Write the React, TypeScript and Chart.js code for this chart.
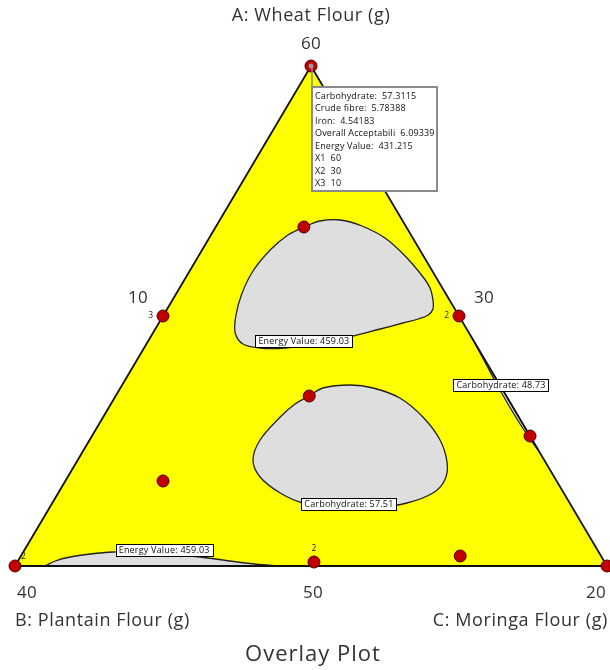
import React, { useEffect, useRef } from "react";
import { Chart, registerables } from "chart.js";

Chart.register(...registerables);

// Component ranges (g): A = Wheat, B = Plantain, C = Moringa (A + B + C = 100)
const wheatRange = [50, 60];
const plantainRange = [30, 40];
const moringaRange = [10, 20];

// Design points
const designWheat = [60, 56.78, 55, 55, 53.4, 52.6, 51.7, 50, 50.08, 50.2, 50];
const designPlantain = [30, 31.73, 35, 30, 33.33, 30, 36.65, 40, 34.91, 32.38, 30];
const designMoringa = [10, 11.49, 10, 15, 13.27, 17.4, 11.65, 10, 15.01, 17.42, 20];
const replicateCounts = ["", "", "3", "2", "", "", "", "2", "2", "", ""];

// Contours as [wheat, moringa] (plantain = 100 - wheat - moringa)
const energyUpperWheat = [56.78, 56.9, 56.92, 56.8, 56.56, 56.2, 55.8, 55.56, 55.32, 55.14, 55.02, 54.94, 54.86, 54.74, 54.56, 54.44, 54.36, 54.36, 54.44, 54.66, 55.0, 55.44, 55.9, 56.32, 56.62, 56.78];
const energyUpperMoringa = [11.49, 11.7, 12.03, 12.46, 12.97, 13.49, 13.98, 14.23, 14.4, 14.49, 14.47, 14.34, 14.12, 13.8, 13.29, 12.81, 12.38, 11.96, 11.63, 11.39, 11.23, 11.11, 11.07, 11.15, 11.3, 11.49];

const carbMiddleWheat = [53.4, 53.56, 53.62, 53.56, 53.36, 52.98, 52.52, 52.06, 51.72, 51.46, 51.26, 51.16, 51.16, 51.26, 51.46, 51.78, 52.12, 52.52, 52.98, 53.24, 53.4];
const carbMiddleMoringa = [13.27, 13.42, 13.85, 14.27, 14.82, 15.4, 15.92, 16.27, 16.4, 16.33, 15.99, 15.47, 14.91, 14.24, 13.75, 13.25, 12.96, 12.88, 12.99, 13.11, 13.27];

const energyBottomWheat = [50, 50.1, 50.18, 50.24, 50.28, 50.28, 50.24, 50.18, 50.1, 50.04, 50, 50];
const energyBottomMoringa = [10.51, 10.63, 10.84, 11.15, 11.52, 11.97, 12.5, 13.04, 13.58, 14.03, 14.39, 10.51];

const carbEdgeWheat = [54.62, 54.12, 53.52, 52.92, 52.42, 52.32, 54.62];
const carbEdgeMoringa = [15.38, 15.86, 16.43, 17.03, 17.56, 17.68, 15.38];

// Contour labels
const contourLabels = ["Energy Value: 459.03", "Carbohydrate: 57.51", "Carbohydrate: 48.73", "Energy Value: 459.03"];
const contourLabelWheat = [54.5, 51.24, 53.62, 50.32];
const contourLabelMoringa = [12.63, 15.02, 16.4, 12.36];

// Tick labels
const vertexTicks = ["60", "40", "20"]; // top (A), bottom-left (B), bottom-right (C)
const edgeTicks = ["10", "30", "50"]; // left edge (C low), right edge (B low), bottom edge (A low)
const axisTitles = ["A: Wheat Flour (g)", "B: Plantain Flour (g)", "C: Moringa Flour (g)"];
const plotTitle = "Overlay Plot";

// Selected point info
const infoNames = ["Carbohydrate:", "Crude fibre:", "Iron:", "Overall Acceptabili", "Energy Value:", "X1", "X2", "X3"];
const infoValues = ["57.3115", "5.78388", "4.54183", "6.09339", "431.215", "60", "30", "10"];

function toXY(wheat: number, moringa: number) {
  const a = (wheat - wheatRange[0]) / (wheatRange[1] - wheatRange[0]);
  const c = (moringa - moringaRange[0]) / (moringaRange[1] - moringaRange[0]);
  return { x: c + a / 2, y: a };
}

function shape(ws: number[], ms: number[]) {
  return ws.map((w, i) => toXY(w, ms[i]));
}

const FONT = "'Open Sans', 'Noto Sans', sans-serif";

const textPlugin = {
  id: "ternaryText",
  afterDraw(chart: any) {
    const ctx = chart.ctx as any;
    const sx = chart.scales.x;
    const sy = chart.scales.y;
    const P = (w: number, m: number) => {
      const p = toXY(w, m);
      return { x: sx.getPixelForValue(p.x), y: sy.getPixelForValue(p.y) };
    };
    const top = P(wheatRange[1], moringaRange[0]);
    const bl = P(wheatRange[0], moringaRange[0]);
    const br = P(wheatRange[0], moringaRange[1]);
    const leftMid = { x: (top.x + bl.x) / 2, y: (top.y + bl.y) / 2 };
    const rightMid = { x: (top.x + br.x) / 2, y: (top.y + br.y) / 2 };
    const botMid = { x: (bl.x + br.x) / 2, y: bl.y };

    ctx.save();
    ctx.fillStyle = "#333";
    ctx.textBaseline = "middle";

    // axis titles
    ctx.font = `18px ${FONT}`;
    ctx.letterSpacing = "0.6px";
    ctx.textAlign = "center";
    ctx.fillText(axisTitles[0], top.x, top.y - 50);
    ctx.textAlign = "left";
    ctx.fillText(axisTitles[1], bl.x, bl.y + 55);
    ctx.textAlign = "right";
    ctx.fillText(axisTitles[2], br.x + 1, br.y + 55);

    // ticks
    ctx.font = `17px ${FONT}`;
    ctx.letterSpacing = "0.3px";
    ctx.textAlign = "center";
    ctx.fillText(vertexTicks[0], top.x, top.y - 22);
    ctx.fillText(vertexTicks[1], bl.x + 12, bl.y + 27);
    ctx.fillText(vertexTicks[2], br.x - 11, br.y + 27);
    ctx.fillText(edgeTicks[0], leftMid.x - 25, leftMid.y - 18);
    ctx.fillText(edgeTicks[1], rightMid.x + 25, rightMid.y - 18);
    ctx.fillText(edgeTicks[2], botMid.x + 2, botMid.y + 27);

    // title
    ctx.font = `22px ${FONT}`;
    ctx.letterSpacing = "1px";
    ctx.fillText(plotTitle, botMid.x + 2, bl.y + 89);
    ctx.letterSpacing = "0px";

    // replicate counts
    ctx.font = `8.5px ${FONT}`;
    ctx.fillStyle = "#222";
    designWheat.forEach((w, i) => {
      const lab = replicateCounts[i];
      if (!lab) return;
      const p = P(w, designMoringa[i]);
      if (Math.abs(p.y - bl.y) < 6 && Math.abs(p.x - bl.x) < 6) {
        ctx.textAlign = "left";
        ctx.fillText(lab, p.x + 6, p.y - 9);
      } else if (Math.abs(p.y - bl.y) < 8) {
        ctx.textAlign = "center";
        ctx.fillText(lab, p.x, p.y - 13);
      } else {
        ctx.textAlign = "right";
        ctx.fillText(lab, p.x - 10, p.y);
      }
    });

    // contour labels
    ctx.font = `9px ${FONT}`;
    ctx.letterSpacing = "0.2px";
    ctx.textAlign = "center";
    contourLabels.forEach((lab, i) => {
      const p = P(contourLabelWheat[i], contourLabelMoringa[i]);
      const w = ctx.measureText(lab).width + 6;
      const h = 12;
      ctx.fillStyle = "#fff";
      ctx.fillRect(p.x - w / 2, p.y - h / 2, w, h);
      ctx.strokeStyle = "#000";
      ctx.lineWidth = 1;
      ctx.strokeRect(Math.round(p.x - w / 2) + 0.5, Math.round(p.y - h / 2) + 0.5, Math.round(w), h);
      ctx.fillStyle = "#111";
      ctx.fillText(lab, p.x, p.y + 0.5);
    });

    // info box for selected point (top vertex)
    const bx = top.x + 1;
    const by = top.y + 21;
    const bw = 125;
    const bh = 104;
    ctx.strokeStyle = "#8a8a8a";
    ctx.lineWidth = 1.5;
    ctx.beginPath();
    ctx.moveTo(top.x + 1, top.y);
    ctx.lineTo(top.x + 1, by);
    ctx.stroke();
    ctx.fillStyle = "#fff";
    ctx.fillRect(bx, by, bw, bh);
    ctx.lineWidth = 2;
    ctx.strokeRect(bx, by, bw, bh);
    ctx.font = `9px ${FONT}`;
    ctx.letterSpacing = "0.15px";
    ctx.textAlign = "left";
    ctx.fillStyle = "#111";
    infoNames.forEach((n, i) => {
      ctx.fillText(n + "  " + infoValues[i], bx + 3, by + 9 + i * 12.5);
    });
    ctx.letterSpacing = "0px";
    // selected marker center
    ctx.fillStyle = "#9a9a9a";
    ctx.beginPath();
    ctx.arc(top.x, top.y, 2.5, 0, Math.PI * 2);
    ctx.fill();
    ctx.restore();
  },
};

export default function App() {
  const ref = useRef<HTMLCanvasElement | null>(null);

  useEffect(() => {
    if (!ref.current) return;
    const triangle = [
      toXY(wheatRange[0], moringaRange[0]),
      toXY(wheatRange[1], moringaRange[0]),
      toXY(wheatRange[0], moringaRange[1]),
      toXY(wheatRange[0], moringaRange[0]),
    ];
    const points = designWheat.map((w, i) => toXY(w, designMoringa[i]));
    const region = (data: any[], order: number) => ({
      data,
      showLine: true,
      fill: "shape",
      backgroundColor: "#dedede",
      borderColor: "#222",
      borderWidth: 1.3,
      pointRadius: 0,
      tension: 0.35,
      clip: false,
      order,
    });
    const chart = new Chart(ref.current, {
      type: "scatter",
      data: {
        datasets: [
          {
            data: points,
            backgroundColor: "#c00000",
            borderColor: "#4a0000",
            borderWidth: 1,
            pointRadius: 6,
            pointHoverRadius: 6,
            clip: false,
            order: 1,
          } as any,
          region(shape(energyUpperWheat, energyUpperMoringa), 3),
          region(shape(carbMiddleWheat, carbMiddleMoringa), 3),
          region(shape(energyBottomWheat, energyBottomMoringa), 3),
          { ...region(shape(carbEdgeWheat, carbEdgeMoringa), 3), tension: 0.2 },
          {
            data: triangle,
            showLine: true,
            fill: "shape",
            backgroundColor: "#ffff00",
            borderColor: "transparent",
            borderWidth: 0,
            pointRadius: 0,
            tension: 0,
            clip: false,
            order: 5,
          } as any,
          {
            data: triangle,
            showLine: true,
            fill: false,
            borderColor: "#111",
            borderWidth: 1.8,
            pointRadius: 0,
            tension: 0,
            clip: false,
            order: 2,
          } as any,
        ],
      },
      options: {
        animation: false,
        responsive: false,
        devicePixelRatio: 1,
        events: [],
        layout: { autoPadding: false, padding: { left: 15, right: 3, top: 66, bottom: 104 } },
        scales: {
          x: { type: "linear", min: 0, max: 1, display: false },
          y: { type: "linear", min: 0, max: 1, display: false },
        },
        plugins: {
          legend: { display: false },
          tooltip: { enabled: false },
          title: { display: false },
        },
      } as any,
      plugins: [textPlugin],
    });
    return () => chart.destroy();
  }, []);

  return (
    <div style={{ position: "absolute", left: 0, top: 0, width: 610, height: 670, background: "#fff", overflow: "hidden" }}>
      <canvas ref={ref} width={610} height={670} style={{ width: 610, height: 670, display: "block" }} />
    </div>
  );
}
